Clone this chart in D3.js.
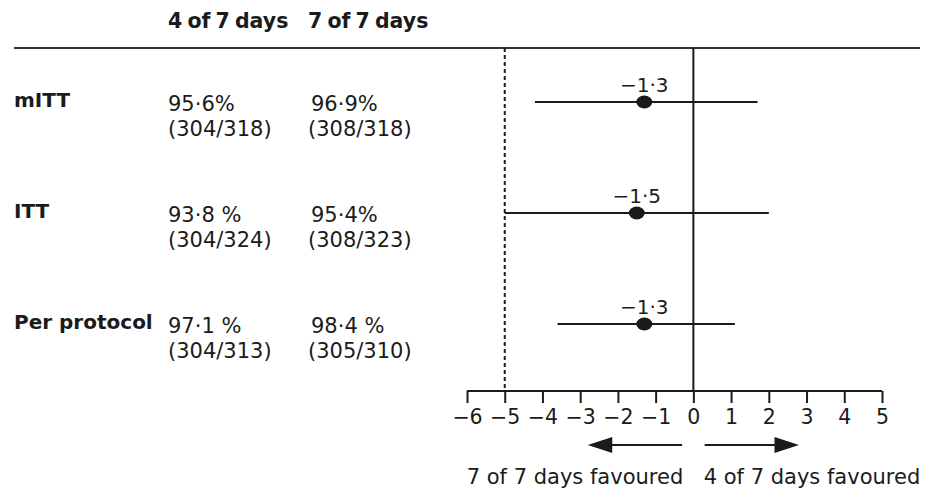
<!DOCTYPE html>
<html>
<head>
<meta charset="utf-8">
<script src="https://cdn.jsdelivr.net/npm/d3@7"></script>
<style>
  body { margin: 0; background: #fff; }
  svg { display: block; font-family: "DejaVu Sans", sans-serif; }
</style>
</head>
<body>
<svg id="chart" width="925" height="489"></svg>
<script>
const rows = ["mITT", "ITT", "Per protocol"];
const pct4 = ["95·6%", "93·8 %", "97·1 %"];
const frac4 = ["(304/318)", "(304/324)", "(304/313)"];
const pct7 = ["96·9%", "95·4%", "98·4 %"];
const frac7 = ["(308/318)", "(308/323)", "(305/310)"];
const diff = [-1.3, -1.5, -1.3];
const lower = [-4.2, -5.0, -3.6];
const upper = [1.7, 2.0, 1.1];
const diffLabels = ["−1·3", "−1·5", "−1·3"];
const ticks = [-6, -5, -4, -3, -2, -1, 0, 1, 2, 3, 4, 5];
const margin = -5;

const ink = "#1b1b1b";
const svg = d3.select("#chart");

const x = d3.scaleLinear().domain([-6, 5]).range([467, 882]);
const y = d3.scalePoint().domain(rows).range([102, 324]);
const axisY = 391;
const topY = 48;

// header
svg.append("text").attr("x", 168).attr("y", 28)
    .attr("font-size", 20.5).attr("font-weight", "bold").attr("fill", ink)
    .attr("word-spacing", -2)
    .text("4 of 7 days");
svg.append("text").attr("x", 308).attr("y", 28)
    .attr("font-size", 20.5).attr("font-weight", "bold").attr("fill", ink)
    .attr("word-spacing", -2)
    .text("7 of 7 days");
svg.append("line").attr("x1", 14).attr("x2", 920)
    .attr("y1", topY).attr("y2", topY)
    .attr("stroke", "#333").attr("stroke-width", 2);

// row labels and values
rows.forEach((r, i) => {
    const yy = y(r);
    svg.append("text").attr("x", 14).attr("y", yy + 5)
        .attr("font-size", 20).attr("font-weight", "bold").attr("fill", ink)
        .text(r);
    svg.append("text").attr("x", 168).attr("y", yy + 9)
        .attr("font-size", 21).attr("fill", ink).text(pct4[i]);
    svg.append("text").attr("x", 168).attr("y", yy + 34)
        .attr("font-size", 21).attr("fill", ink).text(frac4[i]);
    svg.append("text").attr("x", 311).attr("y", yy + 9)
        .attr("font-size", 21).attr("fill", ink).text(pct7[i]);
    svg.append("text").attr("x", 308).attr("y", yy + 34)
        .attr("font-size", 21).attr("fill", ink).text(frac7[i]);
});

// reference lines
svg.append("line").attr("x1", x(0)).attr("x2", x(0))
    .attr("y1", topY).attr("y2", axisY)
    .attr("stroke", ink).attr("stroke-width", 2);
svg.append("line").attr("x1", x(margin)).attr("x2", x(margin))
    .attr("y1", topY).attr("y2", axisY)
    .attr("stroke", ink).attr("stroke-width", 2)
    .attr("stroke-dasharray", "4,3");

// CIs
rows.forEach((r, i) => {
    const yy = y(r);
    svg.append("line").attr("x1", x(lower[i])).attr("x2", x(upper[i]))
        .attr("y1", yy).attr("y2", yy)
        .attr("stroke", ink).attr("stroke-width", 2);
    svg.append("ellipse").attr("cx", x(diff[i])).attr("cy", yy)
        .attr("rx", 8).attr("ry", 6.5).attr("fill", ink);
    svg.append("text").attr("x", x(diff[i])).attr("y", yy - 10)
        .attr("text-anchor", "middle")
        .attr("font-size", 20).attr("fill", ink).text(diffLabels[i]);
});

// axis
const axis = d3.axisBottom(x).tickValues(ticks).tickSize(12).tickPadding(6)
    .tickFormat(d => d < 0 ? "−" + Math.abs(d) : String(d));
const g = svg.append("g").attr("transform", `translate(0,${axisY})`).call(axis);
g.select(".domain").attr("stroke", ink).attr("stroke-width", 2)
    .attr("d", `M${x(-6)},0H${x(5)}`);
g.selectAll(".tick line").attr("stroke", ink).attr("stroke-width", 2);
g.selectAll(".tick text").attr("font-size", 20.5).attr("fill", ink)
    .attr("font-family", "DejaVu Sans, sans-serif");

// direction arrows
svg.append("line").attr("x1", x(-0.3)).attr("x2", x(-2.6))
    .attr("y1", 445).attr("y2", 445)
    .attr("stroke", ink).attr("stroke-width", 2);
svg.append("line").attr("x1", x(0.3)).attr("x2", x(2.6))
    .attr("y1", 445).attr("y2", 445)
    .attr("stroke", ink).attr("stroke-width", 2);
[[-2.8, -2.15], [2.8, 2.15]].forEach(([tip, base]) => {
    svg.append("path")
        .attr("d", `M${x(tip)},445L${x(base)},437L${x(base)},453Z`)
        .attr("fill", ink);
});

svg.append("text").attr("x", 575).attr("y", 484).attr("text-anchor", "middle")
    .attr("font-size", 21).attr("fill", ink).text("7 of 7 days favoured");
svg.append("text").attr("x", 812).attr("y", 484).attr("text-anchor", "middle")
    .attr("font-size", 21).attr("fill", ink).text("4 of 7 days favoured");
</script>
</body>
</html>
